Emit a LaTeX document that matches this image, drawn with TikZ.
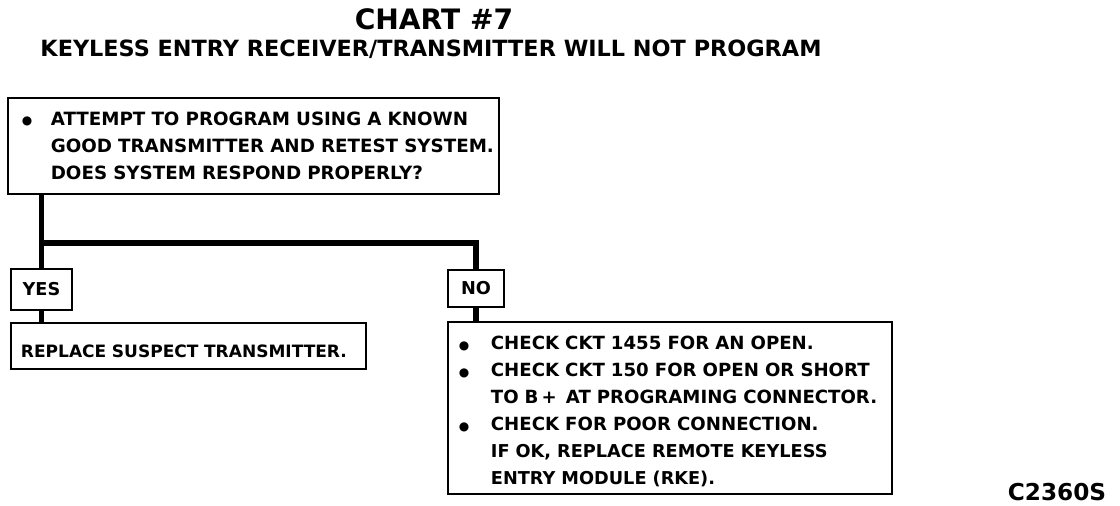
\documentclass[tikz,border=0pt]{standalone}
\usepackage{fontspec}
\setmainfont{DejaVu Sans}
\usepackage{tikz}
\usetikzlibrary{positioning, calc}

\newcommand{\bul}[1][20pt]{\makebox[#1][l]{\raisebox{0.6pt}{\fontsize{8.5pt}{8.5pt}\selectfont ●}}}
\newcommand{\hang}[1][20pt]{\hspace*{#1}}

\begin{document}
\begin{tikzpicture}[x=0.025cm, y=-0.025cm,
    box/.style={draw, line width=1.4pt, anchor=north west, inner ysep=0pt,
      font=\bfseries\fontsize{13pt}{19.2pt}\selectfont},
    trunk/.style={line width=4.2pt},
    every node/.style={text=black}]
			\useasboundingbox (0,0) rectangle (1120,506);
			
			% Titulos
			\node[font=\bfseries\fontsize{20pt}{22pt}\selectfont] (chart) at (434,19) {CHART \#7};
			\node[font=\bfseries\fontsize{15.9pt}{18pt}\selectfont] (title) at (431,49)
			  {KEYLESS ENTRY RECEIVER/TRANSMITTER WILL NOT PROGRAM};
			
			% Cajas
			\node[box, minimum height=2.4cm, inner xsep=0.35cm,
			  text width=11.575cm, align=left] (check) at (7,97)
			  {\mbox{\bul[20.5pt]ATTEMPT TO PROGRAM USING A KNOWN}\\
			   \mbox{\hang[20.5pt]GOOD TRANSMITTER AND RETEST SYSTEM.}\\
			   \mbox{\hang[20.5pt]DOES SYSTEM RESPOND PROPERLY?}};
			\node[box, minimum width=1.525cm, minimum height=1.025cm, inner xsep=0pt,
			  font=\bfseries\fontsize{12.6pt}{14pt}\selectfont] (yes) at (10,268) {YES};
			\node[box, minimum width=1.4cm, minimum height=0.925cm, inner xsep=0pt,
			  font=\bfseries\fontsize{12.6pt}{14pt}\selectfont] (no) at (447,269) {NO};
			\node[box, minimum height=1.15cm, inner xsep=0.25cm,
			  text width=8.375cm, align=left, font=\bfseries\fontsize{12.1pt}{14pt}\selectfont] (fix) at (10,322)
			  {\mbox{\rule{0pt}{17pt}REPLACE SUSPECT TRANSMITTER.}};
			\node[box, minimum height=4.3cm, inner xsep=0.275cm,
			  text width=10.55cm, align=left, font=\bfseries\fontsize{12.9pt}{19.2pt}\selectfont] (checks) at (447,321)
			  {\mbox{\rule{0pt}{15pt}\bul[22.7pt]CHECK CKT 1455 FOR AN OPEN.}\\
			   \mbox{\bul[22.7pt]CHECK CKT 150 FOR OPEN OR SHORT}\\
			   \mbox{\hang[22.7pt]TO B\,+\, AT PROGRAMING CONNECTOR.}\\
			   \mbox{\bul[22.7pt]CHECK FOR POOR CONNECTION.}\\
			   \mbox{\hang[22.7pt]{\fontsize{12.6pt}{19.2pt}\selectfont IF OK, REPLACE REMOTE KEYLESS}}\\
			   \mbox{\hang[22.7pt]{\fontsize{12.6pt}{19.2pt}\selectfont ENTRY MODULE (RKE).}}};
			
			% Lineas
			\coordinate (fork) at (yes.north |- 0,243);
			\draw[trunk] (check.south -| yes.north) -- (yes.north);
			\draw[trunk] (fork) -| (no.north);
			\draw[trunk] (yes.south) -- (yes.south |- fix.north);
			\draw[trunk] (no.south) -- (no.south |- checks.north);
			
			% Codigo
			\node[font=\bfseries\fontsize{16.5pt}{18pt}\selectfont] (code) at (1057,492) {C2360S};
			\end{tikzpicture}
\end{document}
